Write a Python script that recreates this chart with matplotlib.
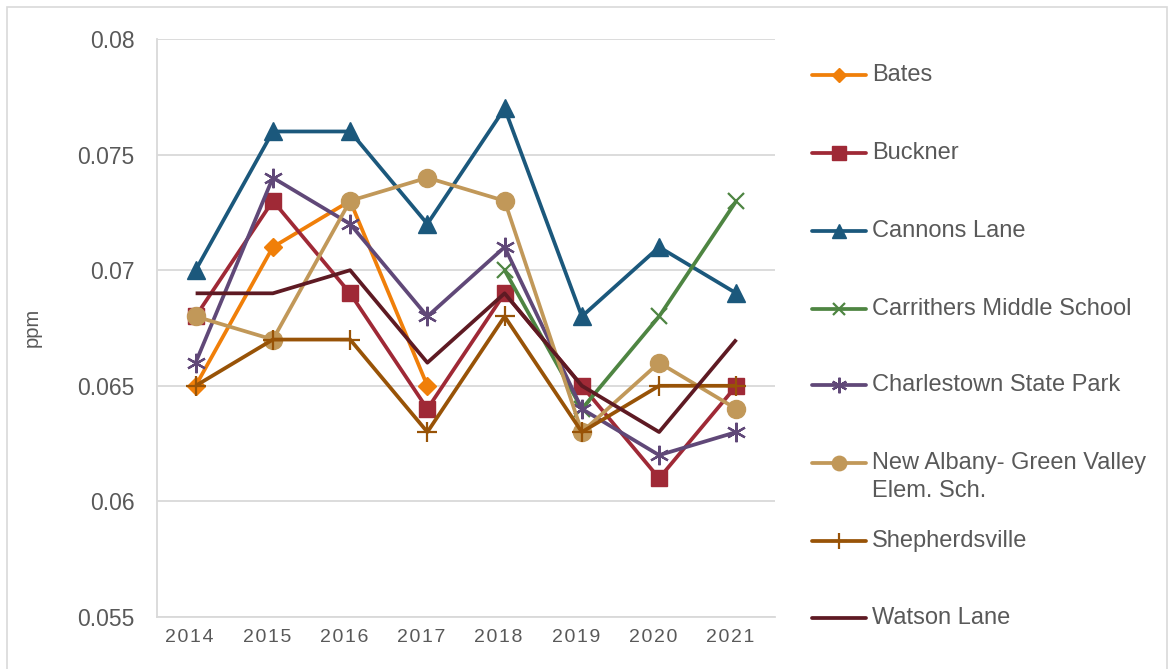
import numpy as np
import matplotlib
matplotlib.use("Agg")
import matplotlib.pyplot as plt
from matplotlib.lines import Line2D
from matplotlib.patches import Rectangle
from matplotlib.transforms import ScaledTranslation

plt.rcParams["font.family"] = ["Liberation Sans", "DejaVu Sans"]

# Data (ppm)
years = ["2014", "2015", "2016", "2017", "2018", "2019", "2020", "2021"]
nan = np.nan
bates = [0.065, 0.071, 0.073, 0.065, nan, nan, nan, nan]
buckner = [0.068, 0.073, 0.069, 0.064, 0.069, 0.065, 0.061, 0.065]
cannons_lane = [0.070, 0.076, 0.076, 0.072, 0.077, 0.068, 0.071, 0.069]
carrithers = [nan, nan, nan, nan, 0.070, 0.064, 0.068, 0.073]
charlestown = [0.066, 0.074, 0.072, 0.068, 0.071, 0.064, 0.062, 0.063]
new_albany = [0.068, 0.067, 0.073, 0.074, 0.073, 0.063, 0.066, 0.064]
shepherdsville = [0.065, 0.067, 0.067, 0.063, 0.068, 0.063, 0.065, 0.065]
watson_lane = [0.069, 0.069, 0.070, 0.066, 0.069, 0.065, 0.063, 0.067]

labels = ["Bates", "Buckner", "Cannons Lane", "Carrithers Middle School",
          "Charlestown State Park", "New Albany- Green Valley\nElem. Sch.",
          "Shepherdsville", "Watson Lane"]
series = [bates, buckner, cannons_lane, carrithers, charlestown,
          new_albany, shepherdsville, watson_lane]

# style per series: colour, marker, marker size, marker edge width
styles = [
    ("#F07F09", "D", 9, 1),
    ("#9F2936", "s", 12, 1),
    ("#1B587C", "^", 13, 1),
    ("#4E8542", "x", 11, 1.6),
    ("#604878", (6, 2, 0), 14, 1.6),
    ("#C19859", "o", 13, 1),
    ("#985307", "+", 15, 1.6),
    ("#5E1A23", None, 0, 1),
]

fig = plt.figure(figsize=(11.71, 6.69), dpi=100)
ax = fig.add_axes([157 / 1171, 1 - 617 / 669, (775 - 157) / 1171, (617 - 39) / 669])

x = np.arange(len(years))
for vals, lab, (col, mk, ms, mew) in zip(series, labels, styles):
    ax.plot(x, vals, color=col, lw=2.7, marker=mk, ms=ms, mew=mew,
            mec=col, mfc=col, solid_capstyle="butt", zorder=3)

ax.set_xlim(-0.5, len(years) - 0.5)
ax.set_ylim(0.055, 0.08)
ax.set_yticks([0.055, 0.06, 0.065, 0.07, 0.075, 0.08])
ax.set_yticklabels(["0.055", "0.06", "0.065", "0.07", "0.075", "0.08"])
ax.set_xticks(x)
ax.set_xticklabels(["\u200a".join(y) for y in years])
ax.tick_params(axis="y", length=0, pad=16, labelsize=16.5, labelcolor="#595959")
ax.tick_params(axis="x", length=0, pad=9, labelsize=14, labelcolor="#595959")
# Excel's letter-spaced labels sit a little left of the category centre
shift = ScaledTranslation(-6 / 100, 0, fig.dpi_scale_trans)
for t in ax.get_xticklabels():
    t.set_transform(t.get_transform() + shift)
ax.grid(axis="y", color="#D9D9D9", lw=1.3)
ax.set_axisbelow(True)
for s in ["top", "right"]:
    ax.spines[s].set_visible(False)
for s in ["left", "bottom"]:
    ax.spines[s].set_color("#D9D9D9")
    ax.spines[s].set_linewidth(1.3)
ax.set_ylabel("ppm", fontsize=14.5, color="#595959")
ax.yaxis.set_label_coords(42 / 1171, 1 - 327 / 669, transform=fig.transFigure)

# legend drawn by hand so the two-line entry aligns like the original
leg_y = [75, 153, 231, 309, 385, 463, 541, 618]
for ly, lab, (col, mk, ms, mew) in zip(leg_y, labels, styles):
    yf = 1 - ly / 669
    fig.add_artist(Line2D([812 / 1171, 866 / 1171], [yf, yf], color=col, lw=2.7,
                          transform=fig.transFigure, solid_capstyle="round"))
    if mk is not None:
        fig.add_artist(Line2D([839 / 1171], [yf], marker=mk, ms=ms * 0.8, mew=mew,
                              color=col, mec=col, mfc=col, transform=fig.transFigure))
    fig.text(872 / 1171, yf, lab.split("\n")[0], fontsize=17, color="#595959",
             va="center", ha="left")
    if "\n" in lab:
        fig.text(872 / 1171, 1 - (ly + 28) / 669, lab.split("\n")[1], fontsize=17,
                 color="#595959", va="center", ha="left")

# outer chart border
fig.add_artist(Rectangle((7 / 1171, -0.02), 1160 / 1171, 1 - 7 / 669 + 0.02,
                         transform=fig.transFigure, fill=False, ec="#D9D9D9", lw=1.2))

fig.savefig("out.png", dpi=100)
